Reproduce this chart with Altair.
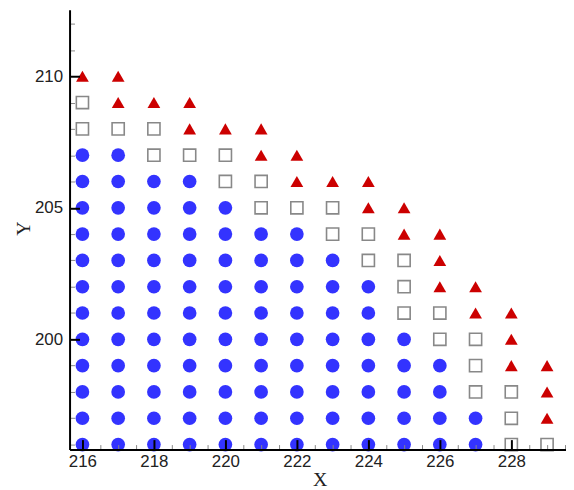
import altair as alt
import pandas as pd

# ---- data ----
x_start = 216
y_rows = [210, 209, 208, 207, 206, 205, 204, 203, 202, 201, 200, 199, 198, 197, 196]
# C = filled circle, S = hollow square, T = triangle ; one code per x from 216 upwards
row_codes = [
    "TT",
    "STTT",
    "SSSTTT",
    "CCSSSTT",
    "CCCCSSTTT",
    "CCCCCSSSTT",
    "CCCCCCCSSTT",
    "CCCCCCCCSST",
    "CCCCCCCCCSTT",
    "CCCCCCCCCSSTT",
    "CCCCCCCCCCSST",
    "CCCCCCCCCCCSTT",
    "CCCCCCCCCCCSST",
    "CCCCCCCCCCCCST",
    "CCCCCCCCCCCCSS",
]
x_tick_values = [216 + 0.5 * i for i in range(28)]
y_tick_values = list(range(196, 213))

recs = []
for y, codes in zip(y_rows, row_codes):
    for i, c in enumerate(codes):
        recs.append({"x": x_start + i, "y": y, "kind": c})
df = pd.DataFrame(recs)

x_enc = alt.X(
    "x:Q",
    scale=alt.Scale(domain=[215.64, 229.53], nice=False, zero=False),
    axis=alt.Axis(
        values=x_tick_values,
        labelExpr="datum.value % 2 == 0 ? format(datum.value, 'd') : ''",
        tickSize={"expr": "datum.value % 2 == 0 ? -10 : -5"},
        tickColor={"expr": "datum.value % 2 == 0 ? '#000000' : '#888888'"},
        tickWidth={"expr": "datum.value % 2 == 0 ? 2 : 1"},
        labelPadding=14,
        title="X",
        titleX=252,
        titleY=30,
        titleBaseline="middle",
        titleAlign="center",
        zindex=1,
    ),
)
y_enc = alt.Y(
    "y:Q",
    scale=alt.Scale(domain=[195.81, 212.53], nice=False, zero=False),
    axis=alt.Axis(
        values=y_tick_values,
        labelExpr="datum.value % 5 == 0 ? format(datum.value, 'd') : ''",
        tickSize={"expr": "datum.value % 5 == 0 ? -10 : -5"},
        tickColor={"expr": "datum.value % 5 == 0 ? '#000000' : '#888888'"},
        tickWidth={"expr": "datum.value % 5 == 0 ? 2 : 1"},
        labelPadding=17,
        title="Y",
        titleX=-46,
        titleY=220,
        titleBaseline="middle",
        titleAlign="center",
        titleAngle=270,
        zindex=1,
    ),
)

base = alt.Chart(df).encode(x=x_enc, y=y_enc)

circles = base.transform_filter("datum.kind == 'C'").mark_point(
    shape="circle", filled=True, color="#3333ff", opacity=1, size=190
)
squares = base.transform_filter("datum.kind == 'S'").mark_point(
    shape="square", filled=False, stroke="#888888", strokeWidth=1.6, opacity=1, size=150
)
triangles = base.transform_filter("datum.kind == 'T'").mark_point(
    shape="triangle-up", filled=True, color="#cc0000", opacity=1, size=165
)

chart = (
    alt.layer(circles, squares, triangles)
    .properties(
        width=500,
        height=443,
        autosize="none",
        padding={"left": 62, "top": 0, "right": 0, "bottom": 38},
    )
    .configure_view(stroke=None)
    .configure_axis(
        grid=False,
        domainColor="#000000",
        domainWidth=2,
        labelFont="Liberation Sans",
        labelFontSize=17,
        labelColor="#222222",
        titleFont="Liberation Serif",
        titleFontSize=20,
        titleFontWeight="normal",
        titleColor="#222222",
    )
)

chart.save("out.html", embed_options={"renderer": "svg", "actions": False})
